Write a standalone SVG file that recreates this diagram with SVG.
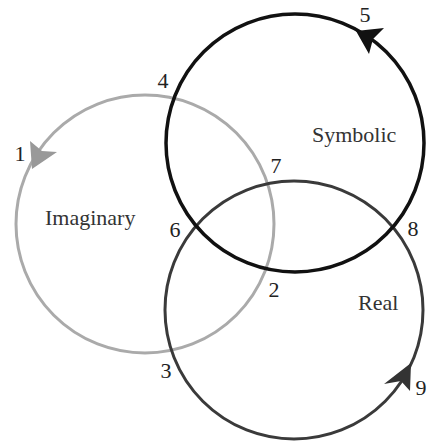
<svg xmlns="http://www.w3.org/2000/svg" width="428" height="444" viewBox="0 0 428 444">
<style>
.ring{fill:none}
.lbl{font-family:'Liberation Serif','DejaVu Serif',serif;font-size:22px;fill:#333}
.num{font-family:'Liberation Serif','DejaVu Serif',serif;font-size:22px;fill:#222;text-anchor:middle}
</style>
<rect width="428" height="444" fill="#fff"/>
<g id="imaginary">
<circle class="ring" cx="145" cy="224" r="129" stroke="#aaaaaa" stroke-width="3"/>
<text class="lbl" x="45" y="225">Imaginary</text>
</g>
<g id="real">
<circle class="ring" cx="294" cy="310" r="129" stroke="#3a3a3a" stroke-width="3"/>
<text class="lbl" x="358" y="310">Real</text>
</g>
<g id="symbolic">
<circle class="ring" cx="295" cy="143" r="129" stroke="#111" stroke-width="3.5"/>
<text class="lbl" x="312" y="142">Symbolic</text>
</g>
<g id="connectors">
<polygon points="32,169 30,141 42,151 57,152" fill="#999"/>
<polygon points="356,31 384,28 373,39 369,54" fill="#111"/>
<polygon points="411,363 410,391 401,381 384,384" fill="#333"/>
</g>
<g id="labels">
<text class="num" x="20" y="161">1</text>
<text class="num" x="274" y="297">2</text>
<text class="num" x="166" y="378">3</text>
<text class="num" x="163" y="88">4</text>
<text class="num" x="365" y="22">5</text>
<text class="num" x="175" y="237">6</text>
<text class="num" x="276" y="173">7</text>
<text class="num" x="413" y="236">8</text>
<text class="num" x="421" y="395">9</text>
</g>
</svg>
